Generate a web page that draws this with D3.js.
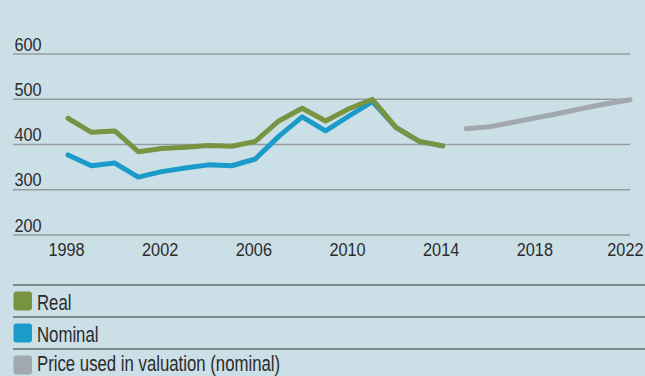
<!DOCTYPE html>
<html>
<head>
<meta charset="utf-8">
<script src="https://cdn.jsdelivr.net/npm/d3@7"></script>
<style>
  html, body { margin: 0; padding: 0; background: #cbdfe7; }
  svg { display: block; }
  text { font-family: "Liberation Sans", Arial, sans-serif; fill: #2b2b2b; }
</style>
</head>
<body>
<svg id="chart" width="645" height="376"></svg>
<script>
// Price series (index), read per year
const realYears = [1998, 1999, 2000, 2001, 2002, 2003, 2004, 2005, 2006, 2007, 2008, 2009, 2010, 2011, 2012, 2013, 2014];
const realValues = [458, 427, 430, 384, 391, 394, 398, 396, 407, 452, 480, 452, 479, 500, 438, 407, 397];
const nominalYears = realYears;
const nominalValues = [377, 353, 359, 328, 340, 348, 355, 353, 368, 418, 461, 430, 463, 495, 438, 407, 397];
const valuationYears = [2015, 2016, 2017, 2018, 2019, 2020, 2021, 2022];
const valuationValues = [435, 439, 449, 459, 469, 480, 490, 499];
const yTicks = [200, 300, 400, 500, 600];
const xTicks = [1998, 2002, 2006, 2010, 2014, 2018, 2022];
const legendLabels = ["Real", "Nominal", "Price used in valuation (nominal)"];
const seriesColors = ["#789442", "#1b9bc9", "#a1a9ae"];

const svg = d3.select("#chart");
const axisSqueeze = 0.88;    // condensed look for the axis numbers
const legendSqueeze = 0.78;  // and for the legend labels

const x = d3.scaleLinear().domain([1998, 2022]).range([68, 630]);
const y = d3.scaleLinear().domain([200, 600]).range([235, 54]);

// horizontal gridlines with labels sitting above each line
const grid = svg.append("g");
grid.selectAll("line").data(yTicks).join("line")
  .attr("x1", 13).attr("x2", 630)
  .attr("y1", d => y(d)).attr("y2", d => y(d))
  .attr("stroke", "#959ca0").attr("stroke-width", 1.3);
grid.selectAll("text").data(yTicks).join("text")
  .attr("transform", d => `translate(14.5,${y(d) - 3.3}) scale(${axisSqueeze},1)`)
  .attr("font-size", 18.5)
  .text(d => d);

// year labels along the bottom
const xAxis = d3.axisBottom(x).tickValues(xTicks).tickFormat(d3.format("d")).tickSize(0).tickPadding(0);
const xg = svg.append("g").attr("transform", "translate(-2,256)").call(xAxis);
xg.select(".domain").remove();
xg.selectAll("text")
  .attr("font-size", 18.5).attr("dy", 0).attr("y", 0)
  .attr("transform", `scale(${axisSqueeze},1)`)
  .style("font-family", "'Liberation Sans', Arial, sans-serif").style("fill", "#2b2b2b");
// keep the final year inside the frame
xg.selectAll(".tick").filter(d => d === 2022).select("text")
  .attr("text-anchor", "end").attr("x", (645 - x(2022)) / axisSqueeze);

const line = d3.line().x(d => x(d[0])).y(d => y(d[1]));
const draw = (years, vals, color) => svg.append("path")
  .datum(years.map((yr, i) => [yr, vals[i]]))
  .attr("d", line)
  .attr("fill", "none").attr("stroke", color)
  .attr("stroke-width", 5).attr("stroke-linejoin", "round").attr("stroke-linecap", "round");

draw(valuationYears, valuationValues, seriesColors[2]);
draw(nominalYears, nominalValues, seriesColors[1]);
draw(realYears, realValues, seriesColors[0]);

// legend rows separated by rules
const rowTop = [285, 317, 349];
const baselineOffset = [24.5, 24.5, 22];  // last row sits tight against the bottom edge
const legend = svg.append("g");
legend.selectAll("line").data(rowTop).join("line")
  .attr("x1", 13).attr("x2", 645)
  .attr("y1", d => d).attr("y2", d => d)
  .attr("stroke", "#333").attr("stroke-width", 1);
legend.selectAll("rect").data(legendLabels).join("rect")
  .attr("x", 13.5).attr("y", (d, i) => rowTop[i] + 6.5)
  .attr("width", 18.5).attr("height", 19).attr("rx", 3)
  .attr("fill", (d, i) => seriesColors[i]);
legend.selectAll("text").data(legendLabels).join("text")
  .attr("transform", (d, i) => `translate(37,${rowTop[i] + baselineOffset[i]}) scale(${legendSqueeze},1)`)
  .attr("font-size", 21.5)
  .text(d => d);
</script>
</body>
</html>
